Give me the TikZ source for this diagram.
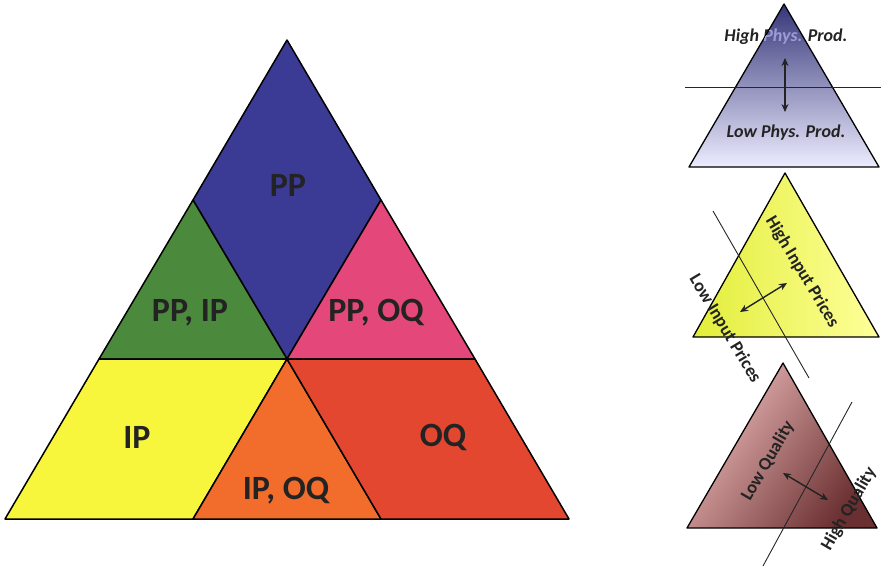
\documentclass[tikz,border=0pt]{standalone}
\usepackage{fontspec}
\setmainfont{Carlito}
\usepackage{xcolor}
\usetikzlibrary{arrows.meta,positioning}
\definecolor{cPP}{HTML}{3B3B96}
\definecolor{cPI}{HTML}{4B8A3C}
\definecolor{cPO}{HTML}{E4487A}
\definecolor{cIP}{HTML}{F7F63C}
\definecolor{cIO}{HTML}{F26C2B}
\definecolor{cOQ}{HTML}{E4472F}
\definecolor{cInk}{HTML}{232323}
\definecolor{cNavy}{HTML}{363679}
\definecolor{cMist}{HTML}{ECECFF}
\definecolor{cGhost}{HTML}{9C9CD8}
\definecolor{cLime}{HTML}{E2EE3A}
\definecolor{cCream}{HTML}{FFFF9A}
\definecolor{cRose}{HTML}{EDBABA}
\definecolor{cWine}{HTML}{6A2F30}
\tikzset{
  region/.style={draw=black,line width=1.5pt,line join=round},
  tag/.style={font=\fontsize{34}{40}\selectfont\bfseries,text=cInk,inner sep=0pt},
  mini/.style={draw=black,line width=1.3pt,line join=round},
  note/.style={font=\fontsize{18}{21}\selectfont\bfseries,text=cInk,inner sep=0pt},
  cut/.style={line width=0.9pt,black!85},
  dbl/.style={{Stealth[length=8pt,width=7pt]}-{Stealth[length=8pt,width=7pt]},line width=1.4pt,cInk},
}

\begin{document}
\begin{tikzpicture}[x=1pt,y=-1pt]
  \useasboundingbox (0,0) rectangle (881,571);
  % grid points of the big triangle
  \coordinate (t)  at (287,40);
  \coordinate (l1) at (193,200); \coordinate (r1) at (381,200);
  \coordinate (l2) at (99,359);  \coordinate (m2) at (287,359); \coordinate (r2) at (475,359);
  \coordinate (b0) at (5,519);   \coordinate (b1) at (193,519);
  \coordinate (b2) at (381,519); \coordinate (b3) at (569,519);

  \filldraw[region,fill=cPP] (t)--(r1)--(m2)--(l1)--cycle;
  \filldraw[region,fill=cPI] (l1)--(m2)--(l2)--cycle;
  \filldraw[region,fill=cPO] (r1)--(r2)--(m2)--cycle;
  \filldraw[region,fill=cIP] (l2)--(m2)--(b1)--(b0)--cycle;
  \filldraw[region,fill=cIO] (m2)--(b2)--(b1)--cycle;
  \filldraw[region,fill=cOQ] (m2)--(r2)--(b3)--(b2)--cycle;

  \node[tag] (pp)   at (288,185) {PP};
  \node[tag] (ppip) at (190,313) {PP, IP};
  \node[tag] (ppoq) at (376,313) {PP, OQ};
  \node[tag] (ip)   at (137,437) {IP};
  \node[tag] (oq)   at (443,437) {OQ};
  \node[tag] (ipoq) at (286,491) {IP, OQ};

  % productivity
  \coordinate (pa) at (784,4);   \coordinate (pl) at (689,167); \coordinate (pr) at (879,167);
  \node[note,font=\fontsize{18}{21}\selectfont\bfseries\itshape] (hpp) at (786,37) {High Phys. Prod.};
  \shadedraw[mini,top color=cNavy,bottom color=cMist] (pa)--(pr)--(pl)--cycle;
  \begin{scope}
    \clip (pa)--(pr)--(pl)--cycle;
    \node[note,font=\fontsize{18}{21}\selectfont\bfseries\itshape,text=cGhost] (hpp2) at (786,37) {High Phys. Prod.};
  \end{scope}
  \coordinate (hl) at (685,87); \coordinate (hr) at (881,87);
  \draw[cut] (hl)--(hr);
  \coordinate (pu) at (785,58); \coordinate (pd) at (785,112);
  \draw[dbl] (pu)--(pd);
  \node[note,font=\fontsize{18}{21}\selectfont\bfseries\itshape] (lpp) at (786,133) {Low Phys. Prod.};

  % input prices
  \coordinate (ya) at (785,173); \coordinate (yl) at (693,337); \coordinate (yr) at (879,337);
  \shadedraw[mini,left color=cLime,right color=cCream] (ya)--(yr)--(yl)--cycle;
  \coordinate (ys) at (713,211); \coordinate (ye) at (809,378);
  \draw[cut] (ys)--(ye);
  \coordinate (yu) at (740,312); \coordinate (yv) at (787,283);
  \draw[dbl] (yu)--(yv);
  \node[note,rotate=-59] (hip) at (802,272) {High Input Prices};
  \node[note,rotate=-59] (lip) at (725,329) {Low Input Prices};

  % output quality
  \coordinate (qa) at (783,363); \coordinate (ql) at (687,528); \coordinate (qr) at (877,528);
  \shadedraw[mini,top color=cRose,bottom color=cWine,shading angle=55] (qa)--(qr)--(ql)--cycle;
  \coordinate (qs) at (852,402); \coordinate (qe) at (763,566);
  \draw[cut] (qs)--(qe);
  \coordinate (qu) at (783,473); \coordinate (qv) at (828,500);
  \draw[dbl] (qu)--(qv);
  \node[note,rotate=60] (lq) at (768,461) {Low Quality};
  \node[note,rotate=60] (hq) at (849,509) {High Quality};
\end{tikzpicture}
\end{document}
